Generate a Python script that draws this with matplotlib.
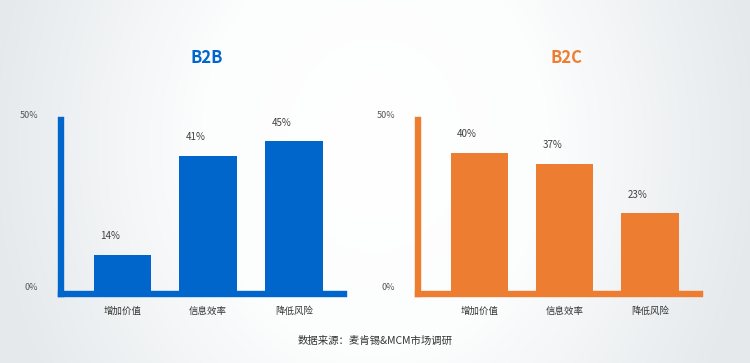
import matplotlib

matplotlib.use("Agg")
import matplotlib.pyplot as plt
import numpy as np
from matplotlib.colors import LinearSegmentedColormap

plt.rcParams["font.family"] = ["Noto Sans CJK SC", "DejaVu Sans"]

categories = ["增加价值", "信息效率", "降低风险"]
b2b_values = [14, 41, 45]
b2c_values = [40, 37, 23]
panel_titles = ["B2B", "B2C"]
source_text = "数据来源：麦肯锡&MCM市场调研"

BLUE = "#0066CC"
ORANGE = "#ED7D31"

fig = plt.figure(figsize=(7.5, 3.63), dpi=100)

# soft radial background, white in the middle, pale grey at the sides
bg = fig.add_axes([0, 0, 1, 1], zorder=-10)
yy, xx = np.mgrid[0:1:300j, 0:1:600j]
r = np.sqrt(((xx - 0.5) / 0.52) ** 2 + ((yy - 0.4) / 1.3) ** 2)
bg_cmap = LinearSegmentedColormap.from_list("bg", [(0, "#ffffff"), (0.45, "#fcfdfd"), (1, "#e5e9ec")])
bg.imshow(np.clip(r, 0, 1), cmap=bg_cmap, aspect="auto", extent=[0, 1, 0, 1],
          origin="upper", vmin=0, vmax=1, interpolation="bilinear")
bg.set_axis_off()


def panel(rect, values, color, ylim, title, title_x):
    ax = fig.add_axes(rect)
    ax.patch.set_alpha(0)
    x = np.arange(len(values))
    ax.bar(x, values, width=0.67, color=color, zorder=2)
    ax.set_xlim(-0.72, 2.585)
    ax.set_ylim(*ylim)
    for s in ["top", "right"]:
        ax.spines[s].set_visible(False)
    for s in ["left", "bottom"]:
        ax.spines[s].set_color(color)
        ax.spines[s].set_linewidth(4.6)
        ax.spines[s].set_capstyle("projecting")
        ax.spines[s].set_zorder(3)
    ax.set_yticks([])
    ax.set_xticks(x)
    ax.set_xticklabels(categories, fontsize=6.8, color="#333333")
    ax.tick_params(axis="x", length=0, pad=9)
    for xi, v in zip(x, values):
        ax.annotate(f"{v}%", (xi, v), xytext=(-9, 13.5), textcoords="offset points",
                    ha="center", va="center", fontsize=7, color="#404040")
    ax.text(-0.08, 1.03, "50%", transform=ax.transAxes, ha="right", va="center",
            fontsize=6.5, color="#555555")
    ax.text(-0.08, 0.04, "0%", transform=ax.transAxes, ha="right", va="center",
            fontsize=6.5, color="#555555")
    fig.text(title_x, 1 - 58 / 363, title, ha="center", va="center", fontsize=12,
             fontweight="bold", color=color)
    return ax


panel([0.0807, 0.1901, 0.3780, 0.4780], b2b_values, BLUE, (3.2, 50.7),
      panel_titles[0], 207 / 750)
panel([0.5573, 0.1901, 0.3760, 0.4780], b2c_values, ORANGE, (0.2, 49.2),
      panel_titles[1], 567 / 750)

fig.text(0.5, 1 - 341 / 363, source_text, ha="center", va="center",
         fontsize=7.5, color="#333333")

fig.savefig("out.png", dpi=100)
